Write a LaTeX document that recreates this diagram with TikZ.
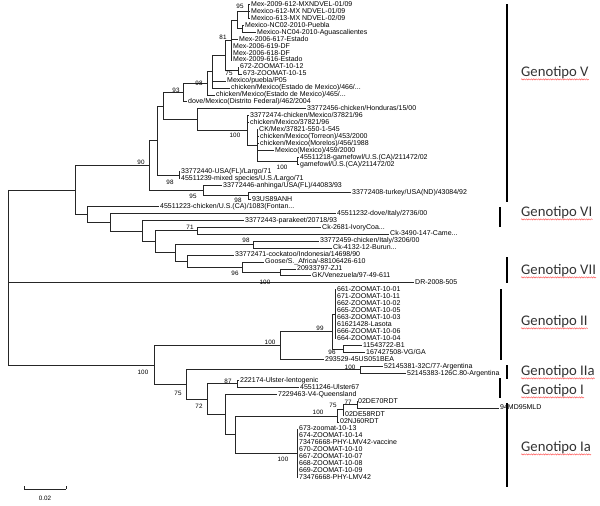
\documentclass[tikz,border=0pt]{standalone}
\usepackage{fontspec}
\setmainfont{Liberation Sans}
\newfontfamily\wordfont{Carlito}
\usetikzlibrary{calc,decorations.pathmorphing}

% leaf #1 (row), branch tip at x=#2, label #3
\newcommand\leaf[3]{\node[lf] (l#1) at (#2,{4.5+6.96*(#1-1)}) {#3};}
% internal node #1 at x=#2, spanning children #3 .. #4
\newcommand\clade[4]{%
  \path let \p1=(#3), \p2=(#4) in (#2pt,{0.5*(\y1+\y2)}) coordinate (#1);
  \draw[br] (#1 |- #3) -- (#1 |- #4);}
\newcommand\twig[2]{\draw[br] (#1 |- #2) -- (#2);}

\begin{document}
\begin{tikzpicture}[x=1pt,y=-1pt,
  br/.style={line width=0.9pt,black!85},
  lf/.style={anchor=west,inner xsep=1pt,inner ysep=0pt,text height=5pt,
             text depth=1.4pt,font=\fontsize{7}{8}\selectfont},
  bs/.style={inner sep=0pt,font=\fontsize{6.3}{7}\selectfont},
  bar/.style={line width=2.6pt},
  geno/.style={anchor=west,inner sep=0pt,text=black!80,
               font=\wordfont\fontsize{14.7}{17}\selectfont},
  squig/.style={red!65,line width=0.45pt,decorate,
                decoration={snake,amplitude=0.6pt,segment length=2.4pt}}
]
\useasboundingbox (0,0) rectangle (600,506);

% ---- Hojas ----
\leaf{1}{250}{Mex-2009-612-MXNDVEL-01/09}
\leaf{2}{250}{Mexico-612-MX NDVEL-01/09}
\leaf{3}{250}{Mexico-613-MX NDVEL-02/09}
\leaf{4}{244}{Mexico-NC02-2010-Puebla}
\leaf{5}{256}{Mexico-NC04-2010-Aguascalientes}
\leaf{6}{238}{Mex-2006-617-Estado}
\leaf{7}{232}{Mex-2006-619-DF}
\leaf{8}{232}{Mex-2006-618-DF}
\leaf{9}{232}{Mex-2009-616-Estado}
\leaf{10}{239}{672-ZOOMAT-10-12}
\leaf{11}{242}{673-ZOOMAT-10-15}
\leaf{12}{226}{Mexico/puebla/P05}
\leaf{13}{230}{chicken/Mexico(Estado de Mexico)/466/...}
\leaf{14}{215}{chicken/Mexico(Estado de Mexico)/465/...}
\leaf{15}{187}{dove/Mexico(Distrito Federal)/462/2004}
\leaf{16}{306}{33772456-chicken/Honduras/15/00}
\leaf{17}{249}{33772474-chicken/Mexico/37821/96}
\leaf{18}{249}{chicken/Mexico/37821/96}
\leaf{19}{258}{CK/Mex/37821-550-1-545}
\leaf{20}{259}{chicken/Mexico(Torreon)/453/2000}
\leaf{21}{259}{chicken/Mexico(Morelos)/456/1988}
\leaf{22}{274}{Mexico(Mexico)/459/2000}
\leaf{23}{299}{45511218-gamefowl/U.S.(CA)/211472/02}
\leaf{24}{299}{gamefowl/U.S.(CA)/211472/02}
\leaf{25}{180}{33772440-USA(FL)/Largo/71}
\leaf{26}{180}{45511239-mixed species/U.S./Largo/71}
\leaf{27}{222}{33772446-anhinga/USA(FL)/44083/93}
\leaf{28}{351}{33772408-turkey/USA(ND)/43084/92}
\leaf{29}{251}{93US89ANH}
\leaf{30}{159}{45511223-chicken/U.S.(CA)/1083(Fontan...}
\leaf{31}{336}{45511232-dove/Italy/2736/00}
\leaf{32}{244}{33772443-parakeet/20718/93}
\leaf{33}{321}{Ck-2681-IvoryCoa...}
\leaf{34}{389}{Ck-3490-147-Came...}
\leaf{35}{319}{33772459-chicken/Italy/3206/00}
\leaf{36}{332}{Ck-4132-12-Burun...}
\leaf{37}{234}{33772471-cockatoo/Indonesia/14698/90}
\leaf{38}{264}{Goose/S.\_Africa/-88106426-610}
\leaf{39}{296}{20933797-ZJ1}
\leaf{40}{311}{GK/Venezuela/97-49-611}
\leaf{41}{414}{DR-2008-505}
\foreach \i/\t in {42/661-ZOOMAT-10-01,43/671-ZOOMAT-10-11,44/662-ZOOMAT-10-02,
  45/665-ZOOMAT-10-05,46/663-ZOOMAT-10-03,47/61621428-Lasota,
  48/666-ZOOMAT-10-06,49/664-ZOOMAT-10-04}
  {\leaf{\i}{336}{\t}}
\leaf{50}{362}{11543722-B1}
\leaf{51}{365}{167427508-VG/GA}
\leaf{52}{324}{293529-45US051BEA}
\leaf{53}{383}{52145381-32C/77-Argentina}
\leaf{54}{406}{52145383-126C.80-Argentina}
\leaf{55}{239}{222174-Ulster-lentogenic}
\leaf{56}{299}{45511246-Ulster67}
\leaf{57}{277}{7229463-V4-Queensland}
\leaf{58}{357}{02DE70RDT}
\leaf{59}{499}{94MD95MLD}
\leaf{60}{344}{02DE58RDT}
\leaf{61}{339}{02NJ60RDT}
\foreach \i/\t in {62/673-zoomat-10-13,63/674-ZOOMAT-10-14,
  64/73476668-PHY-LMV42-vaccine,65/670-ZOOMAT-10-10,66/667-ZOOMAT-10-07,
  67/668-ZOOMAT-10-08,68/669-ZOOMAT-10-09,69/73476668-PHY-LMV42}
  {\leaf{\i}{298}{\t}}

% ---- Genotipo V ----
\clade{n1}{248}{l1}{l3}   \twig{n1}{l1}\twig{n1}{l2}\twig{n1}{l3}
\clade{n2}{242}{l4}{l5}   \twig{n2}{l4}\twig{n2}{l5}
\clade{n3}{237}{n1}{n2}   \twig{n3}{n1}\twig{n3}{n2}
\clade{nA}{231}{n3}{l9}   \twig{nA}{n3}\foreach \i in {6,...,9}{\twig{nA}{l\i}}
\clade{nD}{238}{l10}{l11} \twig{nD}{l10}\twig{nD}{l11}
\clade{nB}{225}{nA}{nD}   \twig{nB}{nA}\twig{nB}{nD}
\clade{nE}{212}{nB}{l13}  \twig{nE}{nB}\twig{nE}{l12}\twig{nE}{l13}
\clade{nF}{207}{nE}{l14}  \twig{nF}{nE}\twig{nF}{l14}
\clade{nG}{183}{nF}{l15}  \twig{nG}{nF}\twig{nG}{l15}
\clade{n23}{297}{l23}{l24} \twig{n23}{l23}\twig{n23}{l24}
\clade{n19}{257}{l19}{n23} \foreach \i in {19,...,22}{\twig{n19}{l\i}}\twig{n19}{n23}
\clade{n17}{247}{l17}{n19} \twig{n17}{l17}\twig{n17}{l18}\twig{n17}{n19}
\clade{nH}{197}{l16}{n17}  \twig{nH}{l16}\twig{nH}{n17}
\clade{nR}{163}{nG}{nH}    \twig{nR}{nG}\twig{nR}{nH}
\clade{n25}{179}{l25}{l26} \twig{n25}{l25}\twig{n25}{l26}
\clade{nQ}{157}{nR}{n25}   \twig{nQ}{nR}\twig{nQ}{n25}
\clade{n28}{248}{l28}{l29} \twig{n28}{l28}\twig{n28}{l29}
\clade{nS}{203}{l27}{n28}  \twig{nS}{l27}\twig{nS}{n28}
\clade{nP}{149}{nQ}{nS}    \twig{nP}{nQ}\twig{nP}{nS}

% ---- Genotipos VI y VII ----
\clade{n33}{197}{l33}{l34} \twig{n33}{l33}\twig{n33}{l34}
\clade{n35}{253}{l35}{l36} \twig{n35}{l35}\twig{n35}{l36}
\clade{n39}{280}{l39}{l40} \twig{n39}{l39}\twig{n39}{l40}
\clade{n38}{242}{l38}{n39} \twig{n38}{l38}\twig{n38}{n39}
\clade{n37}{187}{l37}{n38} \twig{n37}{l37}\twig{n37}{n38}
\clade{n175}{175}{n35}{n37} \twig{n175}{n35}\twig{n175}{n37}
\clade{n155}{155}{n33}{n175} \twig{n155}{n33}\twig{n155}{n175}
\clade{n142}{142}{l32}{n155} \twig{n142}{l32}\twig{n142}{n155}
\clade{n110}{110}{l31}{n142} \twig{n110}{l31}\twig{n110}{n142}
\clade{n87}{87}{l30}{n110}   \twig{n87}{l30}\twig{n87}{n110}
\clade{nTop}{75}{nP}{n87}    \twig{nTop}{nP}\twig{nTop}{n87}

% ---- Genotipos II, IIa, I, Ia ----
\clade{z2}{335}{l42}{l49}  \foreach \i in {42,...,49}{\twig{z2}{l\i}}
\clade{n50}{343}{l50}{l51} \twig{n50}{l50}\twig{n50}{l51}
\clade{n99}{332}{z2}{n50}  \twig{n99}{z2}\twig{n99}{n50}
\clade{n52}{280}{n99}{l52} \twig{n52}{n99}\twig{n52}{l52}
\clade{n53}{360}{l53}{l54} \twig{n53}{l53}\twig{n53}{l54}
\clade{n55}{237}{l55}{l56} \twig{n55}{l55}\twig{n55}{l56}
\clade{n58}{357}{l58}{l59} \twig{n58}{l58}\twig{n58}{l59}
\clade{n60}{343}{n58}{l60} \twig{n60}{n58}\twig{n60}{l60}
\clade{n61}{337}{n60}{l61} \twig{n61}{n60}\twig{n61}{l61}
\clade{z1}{297}{l62}{l69}  \foreach \i in {62,...,69}{\twig{z1}{l\i}}
\clade{nZ}{235}{n61}{z1}   \twig{nZ}{n61}\twig{nZ}{z1}
\clade{nX}{225}{l57}{nZ}   \twig{nX}{l57}\twig{nX}{nZ}
\clade{nW}{207}{n55}{nX}   \twig{nW}{n55}\twig{nW}{nX}
\clade{nU}{186}{n53}{nW}   \twig{nU}{n53}\twig{nU}{nW}
\clade{nLow}{154}{n52}{nU} \twig{nLow}{n52}\twig{nLow}{nU}

% ---- Raiz ----
\clade{root}{8}{nTop}{nLow} \twig{root}{nTop}\twig{root}{l41}\twig{root}{nLow}

% ---- Valores bootstrap ----
\node[bs] (b1) at ($(n1)+(-8,-5.5)$) {95};
\node[bs] (b2) at ($(nA)+(-8,-3)$) {81};
\node[bs] (b3) at ($(nD)+(-9,3)$) {75};
\node[bs] (b4) at ($(nF)+(-8,0)$) {98};
\node[bs] (b5) at ($(nG)+(-7,-2.6)$) {93};
\node[bs] (b6) at ($(n17)+(-12,4.4)$) {100};
\node[bs] (b7) at ($(n23)+(-15,6)$) {100};
\node[bs] (b8) at ($(nP)+(-8,-3.6)$) {90};
\node[bs] (b9) at ($(n25)+(-9,7)$) {98};
\node[bs] (b10) at ($(nS)+(-10,6)$) {95};
\node[bs] (b11) at ($(n28)+(-10,4.2)$) {98};
\node[bs] (b12) at ($(n33)+(-7,-3.7)$) {71};
\node[bs] (b13) at ($(n35)+(-7,-4.6)$) {98};
\node[bs] (b14) at ($(n38)+(-7,6)$) {96};
\node[bs] (b15) at ($(n39)+(-15,9.5)$) {100};
\node[bs] (b16) at ($(n99)+(-12,-3.6)$) {99};
\node[bs] (b17) at ($(n50)+(-11,3)$) {96};
\node[bs] (b18) at ($(n52)+(-10,-3.5)$) {100};
\node[bs] (b19) at ($(nLow)+(-11,7)$) {100};
\node[bs] (b20) at ($(n53)+(-10,-3)$) {100};
\node[bs] (b21) at ($(nU)+(-8,8.4)$) {75};
\node[bs] (b22) at ($(nW)+(-8,7)$) {72};
\node[bs] (b23) at ($(n55)+(-9,-2)$) {87};
\node[bs] (b24) at ($(n58)+(-9,-2.7)$) {77};
\node[bs] (b25) at ($(n60)+(-10,-5)$) {75};
\node[bs] (b26) at ($(n61)+(-19,-4)$) {100};
\node[bs] (b27) at ($(z1)+(-14,6)$) {100};

% ---- Barras de genotipo ----
\draw[bar] (507,4) -- (507,202);
\draw[bar] (500,207) -- (500,227);
\draw[bar] (507,257) -- (507,283);
\draw[bar] (501,289) -- (501,360);
\draw[bar] (507,365) -- (507,379);
\draw[bar] (500,378) -- (500,398);
\draw[bar] (507,403) -- (507,487);

\node[geno] (gV) at (521,73) {Genotipo V};
\node[geno] (gVI) at (521,213) {Genotipo VI};
\node[geno] (gVII) at (521,271) {Genotipo VII};
\node[geno] (gII) at (521,322) {Genotipo II};
\node[geno] (gIIa) at (521,372) {Genotipo IIa};
\node[geno] (gI) at (521,391) {Genotipo I};
\node[geno] (gIa) at (521,448) {Genotipo Ia};
\foreach \g in {gV,gVI,gVII,gII,gIIa,gI,gIa}
  \draw[squig] ([yshift=-2.5pt]\g.base west) -- ([yshift=-2.5pt]\g.base east);

% ---- Escala ----
\coordinate (sL) at (24,489);
\coordinate (sR) at (66,489);
\draw[br,line width=0.6pt] (sL) -- (sR);
\draw[br,line width=0.6pt] (sL) -- ++(0,-3);
\draw[br,line width=0.6pt] (sR) -- ++(0,-3);
\node[bs] (sc) at ($(sL)!.5!(sR)+(0,9)$) {0.02};

\end{tikzpicture}
\end{document}
